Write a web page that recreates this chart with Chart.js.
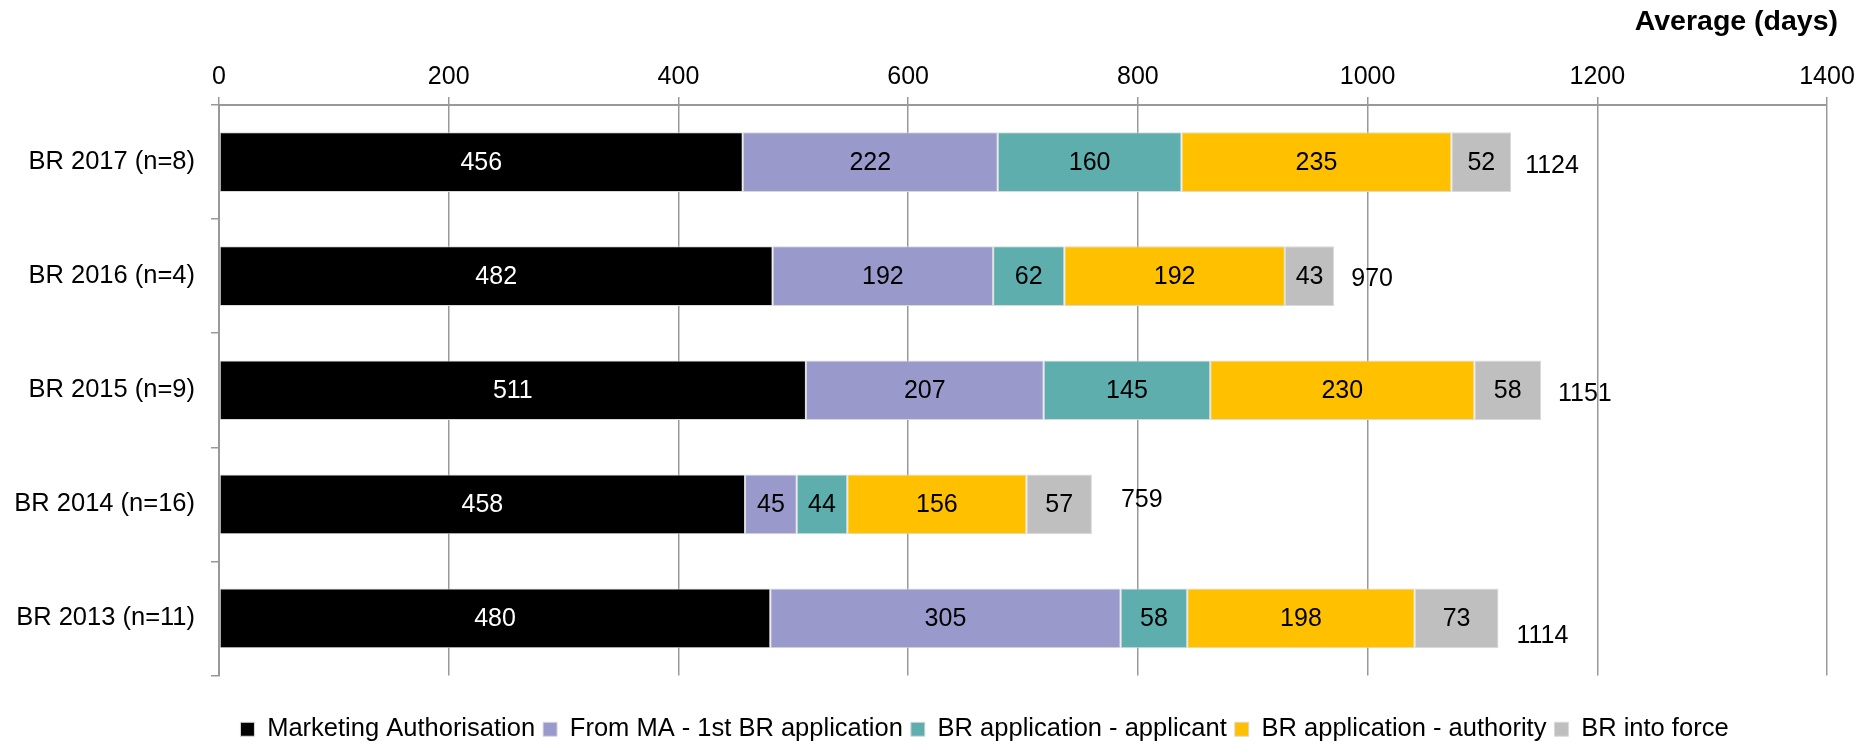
<!DOCTYPE html>
<html>
<head>
<meta charset="utf-8">
<title>Average (days)</title>
<script src="https://cdn.jsdelivr.net/npm/chart.js@4.4.1/dist/chart.umd.min.js"></script>
<style>
    html, body { margin: 0; padding: 0; background: #fff; }
    #wrap { width: 1866px; height: 747px; position: relative; }
</style>
</head>
<body>
<div id="wrap"><canvas id="brChart"></canvas></div>
<script>
// Dados
const categories = ['BR 2017 (n=8)', 'BR 2016 (n=4)', 'BR 2015 (n=9)', 'BR 2014 (n=16)', 'BR 2013 (n=11)'];
const seriesNames = ['Marketing Authorisation', 'From MA - 1st BR application', 'BR application - applicant', 'BR application - authority', 'BR into force'];
const marketingAuth = [456, 482, 511, 458, 480];
const fromMaToBr = [222, 192, 207, 45, 305];
const brApplicant = [160, 62, 145, 44, 58];
const brAuthority = [235, 192, 230, 156, 198];
const brIntoForce = [52, 43, 58, 57, 73];
const totals = [1124, 970, 1151, 759, 1114];
const xTicks = [0, 200, 400, 600, 800, 1000, 1200, 1400];
const axisTitle = 'Average (days)';

const FONT = "'Liberation Sans', Arial, sans-serif";
const seriesColors = ['#000000', '#9999CC', '#5EAEAE', '#FFC000', '#BFBFBF'];
const labelColors = ['#ffffff', '#000000', '#000000', '#000000', '#000000'];
// deslocamento dos totais (px a partir do fim da barra)
const totalNudge = [[14, 3], [17, 2], [17, 2.5], [29, -5], [18, 17]];
const LEGEND_SHIFT = 66;

document.addEventListener("DOMContentLoaded", () => {
    const ctx = document.getElementById('brChart').getContext('2d');
    const seriesValues = [marketingAuth, fromMaToBr, brApplicant, brAuthority, brIntoForce];

    const datasets = seriesNames.map((name, i) => ({
        label: name,
        data: seriesValues[i],
        backgroundColor: seriesColors[i],
        borderColor: '#d9d9d9',
        borderWidth: 1,
        borderSkipped: false,
        categoryPercentage: 1,
        barPercentage: 0.523
    }));

    // Rótulos dentro das barras, totais e título do eixo
    const valueLabels = {
        id: 'valueLabels',
        afterLayout(chart) {
            // legenda um pouco deslocada p/ direita como no original
            chart.legend.left += LEGEND_SHIFT;
            chart.legend.right += LEGEND_SHIFT;
        },
        afterDatasetsDraw(chart) {
            const c = chart.ctx;
            c.save();
            c.font = `25px ${FONT}`;
            c.textBaseline = 'middle';
            chart.data.datasets.forEach((ds, i) => {
                const meta = chart.getDatasetMeta(i);
                meta.data.forEach((bar, j) => {
                    c.fillStyle = labelColors[i];
                    c.textAlign = 'center';
                    c.fillText(String(ds.data[j]), (bar.x + bar.base) / 2, bar.y + 1);
                });
            });
            const last = chart.getDatasetMeta(chart.data.datasets.length - 1);
            last.data.forEach((bar, j) => {
                c.fillStyle = '#000';
                c.textAlign = 'left';
                c.fillText(String(totals[j]), bar.x + totalNudge[j][0], bar.y + totalNudge[j][1] + 1);
            });

            // título "Average (days)" alinhado à direita, um pouco além da área
            c.font = `bold 28.5px ${FONT}`;
            c.textAlign = 'right';
            c.fillText(axisTitle, chart.chartArea.right + 11, 22);
            c.restore();
        }
    };

    new Chart(ctx, {
        type: 'bar',
        data: { labels: categories, datasets },
        plugins: [valueLabels],
        options: {
            indexAxis: 'y',
            responsive: true,
            maintainAspectRatio: false,
            animation: false,
            layout: { padding: { top: 57, left: 10, right: 39, bottom: -5 } },
            scales: {
                x: {
                    position: 'top',
                    stacked: true,
                    min: 0,
                    max: 1400,
                    afterBuildTicks: axis => { axis.ticks = xTicks.map(v => ({ value: v })); },
                    ticks: {
                        color: '#000',
                        font: { family: FONT, size: 25 },
                        padding: 5,
                        callback: v => String(v)
                    },
                    grid: { color: '#999999', lineWidth: 1.5, tickLength: 8 },
                    border: { color: '#999999', width: 2 }
                },
                y: {
                    stacked: true,
                    afterFit: scale => { scale.width = 209; },
                    ticks: { color: '#000', font: { family: FONT, size: 25.5 }, padding: 16 },
                    grid: { drawOnChartArea: false, offset: true, color: '#999999', lineWidth: 1.5, tickLength: 8 },
                    border: { color: '#999999', width: 2 }
                }
            },
            plugins: {
                tooltip: { enabled: false },
                legend: {
                    position: 'bottom',
                    title: { display: true, text: '', font: { size: 10 }, padding: { top: 8, bottom: 13 } },
                    labels: {
                        color: '#000',
                        font: { family: FONT, size: 25.5 },
                        boxWidth: 14,
                        boxHeight: 14,
                        padding: 8
                    }
                }
            }
        }
    });
});
</script>
</body>
</html>
